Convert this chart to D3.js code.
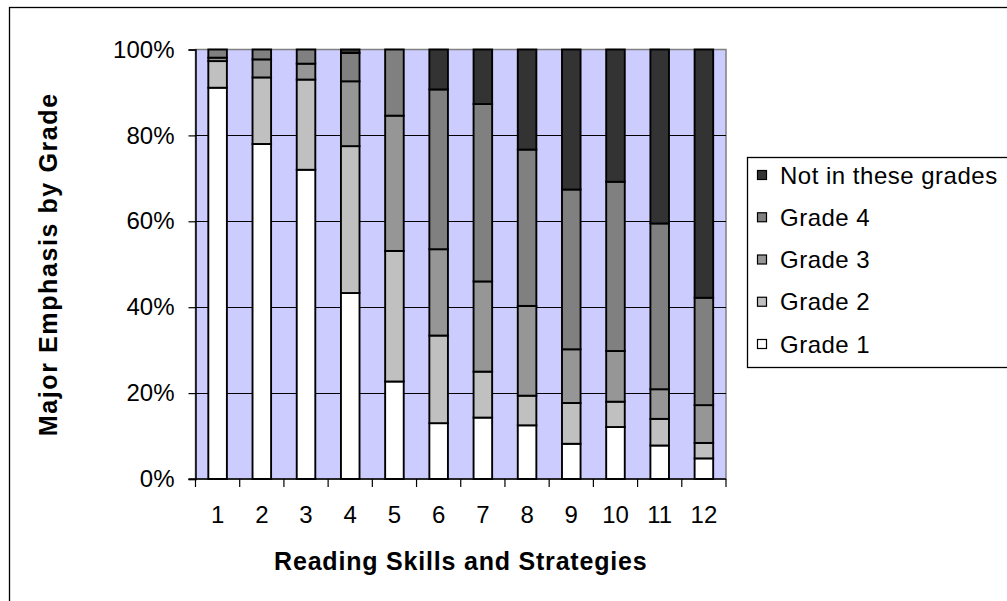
<!DOCTYPE html>
<html>
<head>
<meta charset="utf-8">
<script src="https://cdn.jsdelivr.net/npm/d3@7/dist/d3.min.js"></script>
<style>
  html, body { margin: 0; padding: 0; background: #fff; }
  svg { display: block; font-family: "Liberation Sans", Arial, sans-serif; }
</style>
</head>
<body>
<svg id="chart" width="1007" height="601"></svg>
<script>
// Reading skills 1..12, share of teachers giving major emphasis at each grade
const categories = ["1","2","3","4","5","6","7","8","9","10","11","12"];
const seriesNames = ["Grade 1","Grade 2","Grade 3","Grade 4","Not in these grades"];
const grade1 = [91.1, 78.0, 72.0, 43.3, 22.7, 13.0, 14.3, 12.5,  8.2, 12.1,  7.8,  4.8];
const grade2 = [ 6.2, 15.5, 21.0, 34.2, 30.4, 20.4, 10.7,  6.9,  9.5,  5.9,  6.2,  3.6];
const grade3 = [ 0.8,  4.2,  3.7, 15.1, 31.5, 20.1, 21.0, 20.9, 12.5, 11.8,  6.9,  8.8];
const grade4 = [ 1.9,  2.3,  3.3,  6.6, 15.4, 37.2, 41.3, 36.4, 37.2, 39.4, 38.6, 25.0];
const notInGrades = [0, 0, 0, 0.8, 0, 9.3, 12.7, 23.3, 32.6, 30.8, 40.5, 57.8];
const yTicks = [0, 20, 40, 60, 80, 100];
const colors = ["#FFFFFF", "#C0C0C0", "#969696", "#808080", "#333333"];

const seriesValues = [grade1, grade2, grade3, grade4, notInGrades];
const rows = categories.map((c, i) => {
  const r = { cat: c };
  seriesNames.forEach((s, k) => { r[s] = seriesValues[k][i]; });
  return r;
});

const svg = d3.select("#chart");
const plot = { left: 195.5, right: 726, top: 49.5, bottom: 479 };

// outer chart frame
svg.append("rect")
  .attr("x", 9.5).attr("y", 7.5)
  .attr("width", 1030).attr("height", 620)
  .attr("fill", "#fff").attr("stroke", "#000").attr("stroke-width", 1.3);

const x = d3.scaleBand().domain(categories).range([plot.left, plot.right]).padding(0);
const y = d3.scaleLinear().domain([0, 100]).range([plot.bottom, plot.top]);

// plot background
svg.append("rect")
  .attr("x", plot.left).attr("y", plot.top)
  .attr("width", plot.right - plot.left).attr("height", plot.bottom - plot.top)
  .attr("fill", "#CCCCFF").attr("stroke", "#808080").attr("stroke-width", 1.5);

// gridlines
svg.append("g").selectAll("line")
  .data(yTicks.filter(t => t > 0 && t < 100))
  .join("line")
  .attr("x1", plot.left).attr("x2", plot.right)
  .attr("y1", d => Math.round(y(d)) + 0.5).attr("y2", d => Math.round(y(d)) + 0.5)
  .attr("stroke", "#000").attr("stroke-width", 1);

// stacked bars
const stack = d3.stack().keys(seriesNames);
const stacked = stack(rows);
const barW = x.bandwidth() * 0.42;

svg.append("g").selectAll("g")
  .data(stacked)
  .join("g")
  .attr("fill", (d, i) => colors[i])
  .selectAll("rect")
  .data(d => d)
  .join("rect")
  .attr("x", d => x(d.data.cat) + (x.bandwidth() - barW) / 2)
  .attr("width", barW)
  .attr("y", d => y(d[1]))
  .attr("height", d => y(d[0]) - y(d[1]))
  .attr("stroke", "#000").attr("stroke-width", 1.9);

// y axis
const yAxis = d3.axisLeft(y).tickValues(yTicks).tickSize(7).tickPadding(14)
  .tickFormat(d => d + "%");
const gy = svg.append("g").attr("transform", `translate(${plot.left},0)`).call(yAxis);
gy.select(".domain").attr("stroke", "#000").attr("stroke-width", 1.5);
gy.selectAll(".tick line").attr("stroke", "#000").attr("stroke-width", 1.2);
gy.selectAll(".tick text")
  .attr("font-family", "Liberation Sans, Arial, sans-serif")
  .attr("font-size", 24).attr("fill", "#000");

// x axis: ticks sit on category boundaries
const gx = svg.append("g").attr("transform", `translate(0,${plot.bottom})`);
gx.append("line")
  .attr("x1", plot.left - 7).attr("x2", plot.right)
  .attr("y1", 0).attr("y2", 0)
  .attr("stroke", "#000").attr("stroke-width", 1.5);
const boundaries = categories.map(c => x(c)).concat([plot.right]);
gx.selectAll("line.tk")
  .data(boundaries)
  .join("line").attr("class", "tk")
  .attr("x1", d => d).attr("x2", d => d)
  .attr("y1", 0).attr("y2", 8)
  .attr("stroke", "#000").attr("stroke-width", 1.2);
gx.selectAll("text")
  .data(categories)
  .join("text")
  .attr("x", d => x(d) + x.bandwidth() / 2)
  .attr("y", 44)
  .attr("text-anchor", "middle")
  .attr("font-size", 24).attr("fill", "#000")
  .text(d => d);

// axis titles
svg.append("text")
  .attr("x", (plot.left + plot.right) / 2)
  .attr("y", 570)
  .attr("text-anchor", "middle")
  .attr("font-size", 25).attr("font-weight", "bold")
  .attr("letter-spacing", 0.8)
  .text("Reading Skills and Strategies");

svg.append("text")
  .attr("transform", `translate(57,${(plot.top + plot.bottom) / 2}) rotate(-90)`)
  .attr("text-anchor", "middle")
  .attr("font-size", 25).attr("font-weight", "bold")
  .attr("letter-spacing", 1.6)
  .text("Major Emphasis by Grade");

// legend, top entry is the top of the stack
const legend = svg.append("g");
legend.append("rect")
  .attr("x", 747.5).attr("y", 157.5)
  .attr("width", 300).attr("height", 210)
  .attr("fill", "#fff").attr("stroke", "#000").attr("stroke-width", 1.3);
const legendOrder = seriesNames.map((s, i) => ({ name: s, color: colors[i] })).reverse();
const rowY = d3.scalePoint().domain(legendOrder.map(d => d.name)).range([175, 344]);
const items = legend.selectAll("g.item")
  .data(legendOrder)
  .join("g").attr("class", "item")
  .attr("transform", d => `translate(0,${rowY(d.name)})`);
items.append("rect")
  .attr("x", 757.5).attr("y", -4.5)
  .attr("width", 9).attr("height", 9)
  .attr("fill", d => d.color).attr("stroke", "#000").attr("stroke-width", 1.2);
items.append("text")
  .attr("x", 780).attr("y", 8.5)
  .attr("font-size", 24).attr("letter-spacing", 0.5).attr("fill", "#000")
  .text(d => d.name);
</script>
</body>
</html>
